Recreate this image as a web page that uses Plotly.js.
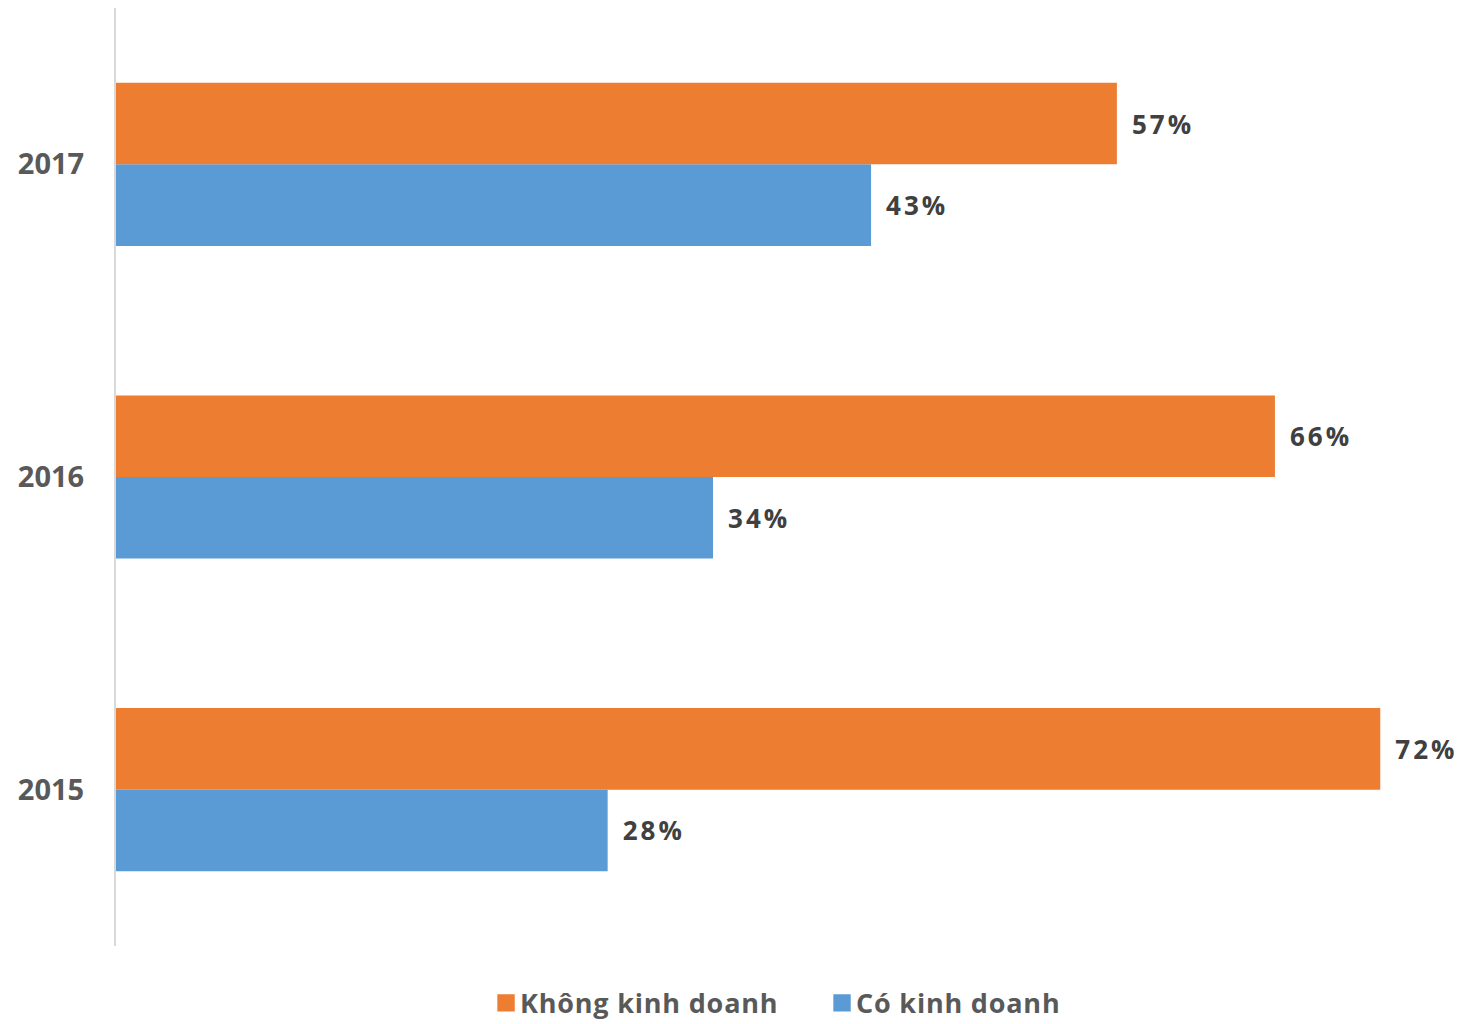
<!DOCTYPE html>
<html>
<head>
<meta charset="utf-8">
<script src="https://cdn.plot.ly/plotly-3.0.1.min.js"></script>
<style>
html,body{margin:0;padding:0;background:#fff;}
#chart{width:1483px;height:1024px;}
.barlayer .bartext{letter-spacing:3px;}
.legend .legendtext{letter-spacing:0.8px;}
.legend .legendpoints path{transform:translate(26px,0px) scale(1.45);}
</style>
</head>
<body>
<div id="chart"></div>
<script>
const years = ['2015', '2016', '2017'];
const khongKinhDoanh = [72, 66, 57];
const coKinhDoanh = [28, 34, 43];
const seriesNames = ['Không kinh doanh', 'Có kinh doanh'];

const labelFont = {family: 'Open Sans, sans-serif', size: 26, color: '#404040', weight: 'bold'};
const pad = '\u00a0\u00a0';

const traces = [
  {
    type: 'bar', orientation: 'h', name: seriesNames[1],
    y: years, x: coKinhDoanh,
    marker: {color: '#5b9bd5'},
    text: coKinhDoanh.map(v => pad + v + '%'), textposition: 'outside',
    textfont: labelFont, cliponaxis: false, hoverinfo: 'skip'
  },
  {
    type: 'bar', orientation: 'h', name: seriesNames[0],
    y: years, x: khongKinhDoanh,
    marker: {color: '#ed7d31'},
    text: khongKinhDoanh.map(v => pad + v + '%'), textposition: 'outside',
    textfont: labelFont, cliponaxis: false, hoverinfo: 'skip'
  }
];

const layout = {
  width: 1483, height: 1024,
  margin: {l: 116, r: 0, t: 8, b: 78, autoexpand: false},
  paper_bgcolor: '#fff', plot_bgcolor: '#fff',
  barmode: 'group', bargap: 0.478, bargroupgap: 0,
  showlegend: true,
  legend: {
    orientation: 'h', traceorder: 'reversed',
    x: 0.2663, xanchor: 'left', y: -0.035, yanchor: 'top',
    font: {family: 'Open Sans, sans-serif', size: 27, color: '#595959', weight: 'bold'},
    entrywidth: 291, entrywidthmode: 'pixels'
  },
  xaxis: {
    range: [0, 77.85], showgrid: false, zeroline: false,
    showticklabels: false, showline: false, ticks: ''
  },
  yaxis: {
    type: 'category', categoryorder: 'array', categoryarray: years,
    showgrid: false, zeroline: false, showline: true,
    linecolor: '#d9d9d9', linewidth: 2, ticks: '',
    tickfont: {family: 'Open Sans, sans-serif', size: 29, color: '#595959', weight: 'bold'},
    ticklabelstandoff: 24
  }
};

Plotly.newPlot('chart', traces, layout, {displayModeBar: false, staticPlot: true});
</script>
</body>
</html>
